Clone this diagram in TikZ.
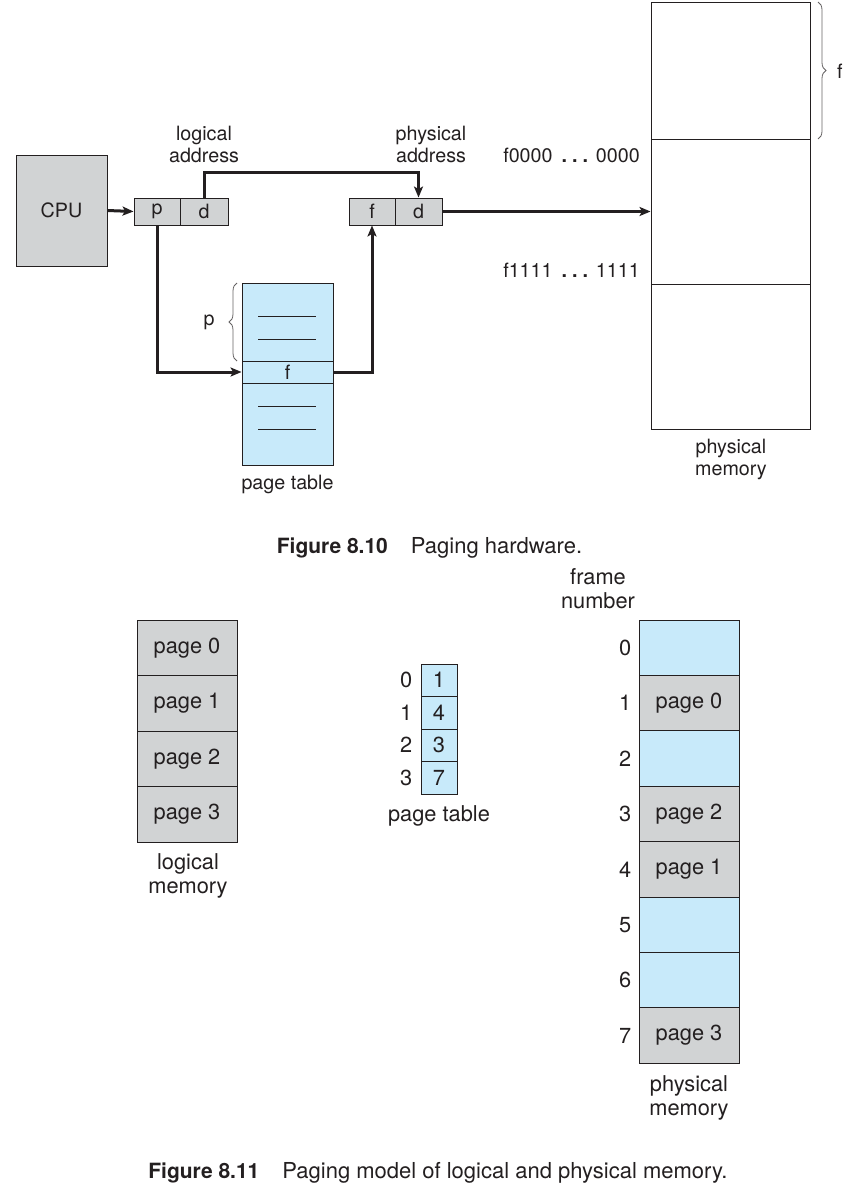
\documentclass[tikz,border=0pt]{standalone}
\usepackage{fontspec}
\setmainfont{TeX Gyre Heros}
\usepackage{tikz}
\usetikzlibrary{%
	arrows.meta,%
	positioning,%
	decorations.pathreplacing,% wg. brace
	calc
}
\definecolor{ink}{HTML}{231F20}
\definecolor{cellgray}{HTML}{D1D3D4}
\definecolor{cellblue}{HTML}{C8EAFA}
\tikzstyle{txt} = [font=\fontsize{19.7}{22}\selectfont, text=ink, align=center, inner sep=0pt]
\tikzstyle{bigtxt} = [txt, font=\fontsize{21.8}{24}\selectfont]
\tikzstyle{cell} = [draw=ink, line width=0.9pt, inner sep=0pt, txt]
\tikzstyle{graycell} = [cell, fill=cellgray]
\tikzstyle{bluecell} = [cell, fill=cellblue]
\tikzstyle{whitecell} = [cell, fill=white]
\tikzstyle{wire} = [draw=ink, line width=3pt, -{Stealth[length=11pt,width=9pt,inset=2.5pt]}]
\tikzstyle{rule} = [draw=ink, line width=0.9pt]
\tikzstyle{curly} = [draw=ink!70, line width=0.8pt, decorate, decoration={brace, amplitude=8pt}]
\tikzstyle{caption} = [font=\fontsize{22}{24}\selectfont, text=ink, inner sep=0pt]
\newcommand{\dotsep}{\hspace{9pt}\textbf{.\hspace{5pt}.\hspace{5pt}.}\hspace{8pt}}
\newcommand{\fignum}[1]{{\fontsize{21}{24}\selectfont\bfseries Figure #1}\hspace{23pt}}

\begin{document}
\begin{tikzpicture}[x=1pt, y=-1pt]
	\useasboundingbox (0,0) rectangle (858,1196);

	% First we draw the CPU and the two addresses
	\node[graycell, minimum width=91pt, minimum height=111pt] (cpu) at (61.5,210.5) {CPU};
	\foreach \pos/\name/\boxw/\txt in {{(157,211.5)/lp/46/p}, {(204,211.5)/ld/48/d},
		{(372,211.5)/pf/46/f}, {(418.5,211.5)/pd/47/d}}
	\node[graycell, minimum width=\boxw pt, minimum height=27pt] (\name) at \pos {\txt};

	% Page table with the entry f
	\node[bluecell, minimum width=91pt, minimum height=78pt] (ptabove) at (287.5,322) {};
	\node[bluecell, minimum width=91pt, minimum height=22pt] (ptentry) at (287.5,372) {f};
	\node[bluecell, minimum width=91pt, minimum height=82pt] (ptbelow) at (287.5,424) {};
	\foreach \y in {316, 339, 406, 429}
	\draw[rule] (258,\y) -- (316,\y);

	% Physical memory frames
	\foreach \pos/\name/\boxh in {{(730.5,70.5)/frtop/137}, {(730.5,211.5)/frf/145}, {(730.5,356.5)/frlow/145}}
	\node[whitecell, minimum width=159pt, minimum height=\boxh pt] (\name) at \pos {};

	% Connect the boxes
	\coordinate (bend) at (204,172);
	\path[wire] (cpu.east) -- (lp.west);
	\path[wire] (ld.north) -- (bend) -| (pd.north);
	\path[wire] (lp.south) |- (ptentry.west);
	\path[wire] (ptentry.east) -| (pf.south);
	\path[wire] (pd.east) -- (frf.west);

	% Braces
	\draw[curly] (237,361) -- (237,283);
	\draw[curly] (818,2) -- (818,139);

	% Labels
	\node[txt] (lalabel) at (204,144) {logical\\address};
	\node[txt] (palabel) at (431,144) {physical\\address};
	\node[txt, anchor=east] (lowaddr) at (640,155) {f0000\dotsep0000};
	\node[txt, anchor=east] (highaddr) at (640,270) {f1111\dotsep1111};
	\node[txt] (plabel) at (209,322) {p};
	\node[txt, anchor=west] (flabel) at (837,71) {f};
	\node[txt] (ptlabel) at (287.5,484) {page table};
	\node[txt] (pmlabel) at (731,459) {physical\\memory};
	\node[caption] (capA) at (429.5,548) {\fignum{8.10}Paging hardware.};

	% Second figure: logical memory
	\foreach \i in {0,...,3}
	\node[graycell, bigtxt, minimum width=100pt, minimum height=55.5pt] (lm\i) at (187,647.75+55.5*\i) {page \i};
	\node[bigtxt] (lmlabel) at (188,876) {logical\\memory};

	% Small page table
	\foreach \i/\val in {0/1, 1/4, 2/3, 3/7} {
		\node[bluecell, bigtxt, minimum width=36pt, minimum height=32.5pt] (pt\i) at (439,680.25+32.5*\i) {\val};
		\node[bigtxt, left=8pt of pt\i] (ptidx\i) {\i};
	}
	\node[bigtxt] (sptlabel) at (439,816) {page table};

	% Physical memory with frame numbers
	\foreach \i/\kind/\txt in {0/bluecell/{}, 1/graycell/page 0, 2/bluecell/{}, 3/graycell/page 2,
		4/graycell/page 1, 5/bluecell/{}, 6/bluecell/{}, 7/graycell/page 3} {
		\node[\kind, bigtxt, minimum width=100pt, minimum height=55.4pt] (fr\i) at (689,647.7+55.4*\i) {\txt};
		\node[bigtxt, left=7pt of fr\i] (fridx\i) {\i};
	}
	\node[bigtxt] (fnlabel) at (598,589) {frame\\number};
	\node[bigtxt] (pm2label) at (689,1098) {physical\\memory};
	\node[caption] (capB) at (438,1173) {\fignum{8.11}Paging model of logical and physical memory.};

\end{tikzpicture}
\end{document}
